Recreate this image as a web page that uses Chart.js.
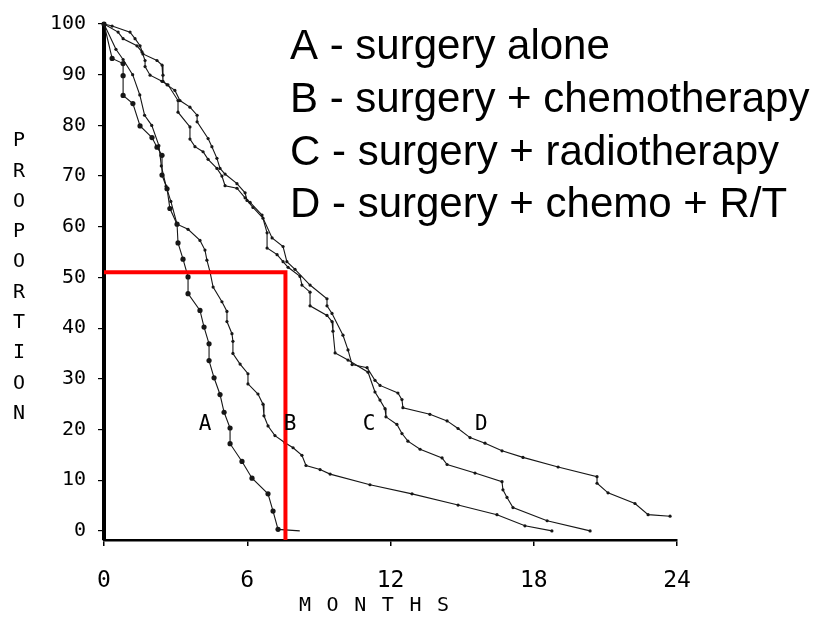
<!DOCTYPE html>
<html>
<head>
<meta charset="utf-8">
<script src="https://cdn.jsdelivr.net/npm/chart.js@4/dist/chart.umd.min.js"></script>
<style>
  html, body { margin: 0; padding: 0; background: #ffffff; }
  canvas { display: block; }
</style>
</head>
<body>
<canvas id="survival" width="819" height="636"></canvas>
<script>
// Survival curves: [months, proportion surviving (%)]
const curveA = [[0,100],[0.34,93.2],[0.80,92.2],[0.80,89.8],[0.80,85.9],[1.21,84.3],[1.51,79.9],[2.01,77.6],[2.22,75.7],[2.43,74.1],[2.43,70.2],[2.64,67.5],[2.76,63.6],[3.06,60.5],[3.10,56.8],[3.31,53.6],[3.52,50.1],[3.52,46.8],[4.02,43.5],[4.19,40.2],[4.40,36.9],[4.40,33.6],[4.61,30.2],[4.86,26.9],[5.03,23.4],[5.28,20.3],[5.28,17.2],[5.78,13.7],[6.20,10.4],[6.87,7.3],[7.08,3.9],[7.29,0.3],[8.2,0]];

const curveB = [[0,100],[0.5,95],[0.8,93],[1.2,90],[1.5,86],[1.7,82],[2.0,80],[2.3,76],[2.4,72],[2.6,68],[2.8,65],[3.06,60.5],[3.52,59.5],[4.02,57.3],[4.23,55.4],[4.31,53.4],[4.44,51.1],[4.57,48.1],[4.94,45.2],[5.15,43.3],[5.15,41.3],[5.36,38.9],[5.40,37.4],[5.40,35.0],[5.70,32.9],[6.03,31.0],[6.03,29.0],[6.45,27.0],[6.66,25.0],[6.70,22.7],[6.87,20.7],[7.16,18.8],[7.58,17.4],[7.92,16.4],[8.29,14.9],[8.46,12.9],[9.05,12.1],[9.47,11.2],[11.14,9.1],[12.90,7.3],[14.83,5.1],[16.46,3.2],[17.63,1.0],[18.76,0]];

const curveC = [[0,100],[0.59,98.4],[0.80,97.1],[1.38,95.7],[1.59,94.5],[1.72,92.8],[1.72,91.6],[1.93,89.9],[2.43,88.7],[2.68,88.0],[3.10,84.9],[3.10,82.6],[3.60,79.7],[3.60,77.3],[3.81,75.8],[4.15,74.8],[4.36,73.3],[4.73,71.5],[4.94,70.0],[5.07,68.1],[5.57,67.6],[5.91,65.7],[6.12,64.8],[6.62,62.3],[6.83,58.8],[6.83,55.8],[7.25,54.5],[7.50,53.1],[7.71,52.0],[8.21,50.2],[8.29,48.5],[8.63,47.1],[8.63,44.4],[9.34,42.5],[9.55,41.3],[9.59,39.4],[9.68,35.1],[10.22,33.7],[11.06,31.3],[11.35,27.4],[11.56,25.8],[11.77,24.1],[11.81,22.5],[12.27,21.0],[12.48,19.2],[12.73,17.7],[13.24,16.1],[14.16,14.4],[14.37,13.1],[15.54,11.4],[16.67,9.7],[16.71,8.1],[16.88,6.6],[17.13,4.6],[18.56,2.0],[20.36,0]];

const curveD = [[0,100],[0.34,99.6],[1.09,98.4],[1.30,97.1],[1.51,95.7],[1.63,94.1],[2.22,92.8],[2.43,91.9],[2.47,89.9],[2.47,88.7],[2.64,88.0],[2.97,86.9],[3.18,84.9],[3.60,83.6],[3.90,82.0],[3.90,80.7],[4.36,77.4],[4.52,75.8],[4.73,73.5],[4.86,71.5],[5.07,70.4],[5.57,68.5],[5.91,66.7],[5.99,65.2],[6.24,63.8],[6.66,61.7],[7.04,57.8],[7.50,56.1],[7.66,53.1],[8.00,51.6],[8.63,48.5],[9.34,45.8],[9.34,44.4],[9.55,42.9],[10.01,38.6],[10.22,35.7],[10.39,32.8],[11.02,32.2],[11.35,29.7],[11.56,28.7],[12.31,27.2],[12.48,25.9],[12.52,24.3],[13.65,23.0],[14.37,21.7],[14.83,20.2],[15.33,18.4],[15.96,17.3],[16.67,15.8],[17.55,14.5],[19.02,12.6],[20.65,10.7],[20.65,9.4],[21.11,7.5],[22.24,5.4],[22.79,3.2],[23.71,2.9]];

// Median survival guide (proportion 51 % reached at about 7.6 months)
const medianMonths = 7.6;
const medianProportion = 51;

const xTicks = [0, 6, 12, 18, 24];
const yTicks = [0, 10, 20, 30, 40, 50, 60, 70, 80, 90, 100];

const groupLetters = ['A', 'B', 'C', 'D'];
const legendLines = [
  'A - surgery alone',
  'B - surgery + chemotherapy',
  'C - surgery + radiotherapy',
  'D - surgery + chemo + R/T'
];
const xTitle = 'MONTHS';
const yTitle = 'PROPORTION';

const Y_MIN = -1.8;
const tickFont = '"DejaVu Sans Mono", monospace';

const toPoints = arr => arr.map(([x, y]) => ({ x, y }));

function curveDataset(label, arr, radius, bareEnd) {
  const last = arr.length - 1;
  return {
    label,
    data: toPoints(arr),
    showLine: true,
    borderColor: '#161616',
    backgroundColor: '#161616',
    borderWidth: 1.1,
    pointRadius: c => (bareEnd && c.dataIndex === last ? 0 : radius),
    pointHoverRadius: radius,
    pointBorderWidth: 0,
    tension: 0,
    clip: false
  };
}

// Draws the legend block, the curve letters and the axis titles
const annotations = {
  id: 'annotations',
  afterDraw(chart) {
    const { ctx, scales: { x, y } } = chart;
    ctx.save();
    ctx.fillStyle = '#000';

    // legend lines
    ctx.font = '42px "Liberation Sans", Arial, sans-serif';
    ctx.textAlign = 'left';
    ctx.textBaseline = 'alphabetic';
    const baselines = [59, 112, 165, 217];
    legendLines.forEach((t, i) => ctx.fillText(t, 290, baselines[i]));

    // letters beside each curve
    ctx.font = '21px ' + tickFont;
    ctx.textAlign = 'center';
    ctx.textBaseline = 'middle';
    const letterPos = [[4.23, 21], [7.79, 21], [11.1, 21], [15.8, 21]];
    groupLetters.forEach((l, i) => {
      ctx.fillText(l, x.getPixelForValue(letterPos[i][0]), y.getPixelForValue(letterPos[i][1]));
    });

    // x title, letters spread out
    ctx.font = '20px ' + tickFont;
    [...xTitle].forEach((ch, i) => ctx.fillText(ch, 305 + i * 27.6, 606));

    // y title, letters stacked
    ctx.font = '20px ' + tickFont;
    [...yTitle].forEach((ch, i) => ctx.fillText(ch, 19, 141 + i * 30.3));

    ctx.restore();
  }
};

new Chart(document.getElementById('survival'), {
  type: 'scatter',
  data: {
    datasets: [
      curveDataset('A', curveA, 2.6, true),
      curveDataset('B', curveB, 1.6, false),
      curveDataset('C', curveC, 1.6, false),
      curveDataset('D', curveD, 1.6, false),
      {
        label: 'median',
        data: [
          { x: 0, y: medianProportion },
          { x: medianMonths, y: medianProportion },
          { x: medianMonths, y: Y_MIN }
        ],
        showLine: true,
        borderColor: '#ff0000',
        borderWidth: 4,
        pointRadius: 0,
        tension: 0,
        clip: false,
        order: -1
      }
    ]
  },
  options: {
    responsive: false,
    animation: false,
    devicePixelRatio: 1,
    layout: { padding: { top: 20, right: 142, left: 0, bottom: 0 } },
    plugins: {
      legend: { display: false },
      tooltip: { enabled: false }
    },
    scales: {
      x: {
        type: 'linear',
        min: 0,
        max: 24,
        afterBuildTicks: s => { s.ticks = xTicks.map(v => ({ value: v })); },
        afterFit: s => { s.height = 96; },
        border: { display: true, color: '#000', width: 2.5 },
        grid: { display: true, drawOnChartArea: false, drawTicks: true, tickLength: 6, color: '#000', lineWidth: 1.5 },
        ticks: { color: '#000', padding: 21, font: { family: tickFont, size: 23 }, maxRotation: 0 }
      },
      y: {
        type: 'linear',
        min: Y_MIN,
        max: 100,
        afterBuildTicks: s => { s.ticks = yTicks.map(v => ({ value: v })); },
        afterFit: s => { s.width = 104; },
        border: { display: true, color: '#000', width: 4 },
        grid: { display: true, drawOnChartArea: false, drawTicks: true, tickLength: 6, color: '#000', lineWidth: 1.2 },
        ticks: { color: '#000', padding: 12, font: { family: tickFont, size: 20 } }
      }
    }
  },
  plugins: [annotations]
});
</script>
</body>
</html>
